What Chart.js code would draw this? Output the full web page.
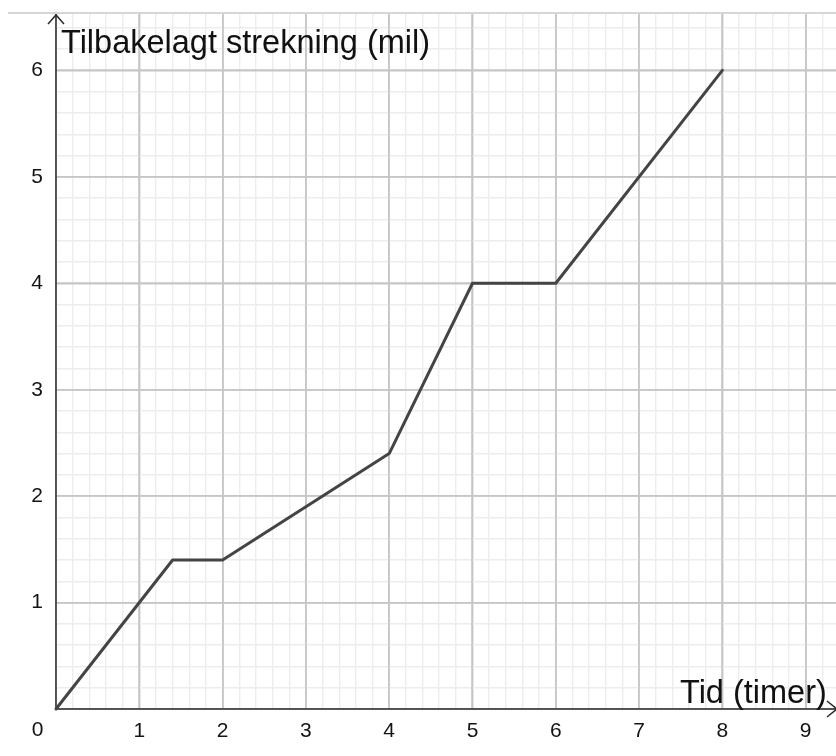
<!DOCTYPE html>
<html>
<head>
<meta charset="utf-8">
<style>
  html, body { margin: 0; padding: 0; background: #ffffff; }
  #c { display: block; }
</style>
<script src="https://cdn.jsdelivr.net/npm/chart.js@4.4.1/dist/chart.umd.min.js"></script>
</head>
<body>
<canvas id="c" width="836" height="756"></canvas>
<script>
// ---- Data ----
const timeHours = [0, 1.4, 2, 4, 5, 6, 8];
const distanceMil = [0, 1.4, 1.4, 2.4, 4, 4, 6];
const xTickLabels = ['0', '1', '2', '3', '4', '5', '6', '7', '8', '9'];
const yTickLabels = ['1', '2', '3', '4', '5', '6'];
const xTitle = 'Tid (timer)';
const yTitle = 'Tilbakelagt strekning (mil)';

// ---- Styles ----
const FONT = '"Liberation Sans", Arial, sans-serif';
const MAJOR = '#c6c6c6';
const MINOR = '#ededed';
const AXIS = '#2b2b2b';
const LABEL = '#141414';
const X_MAX = 9.364;
const Y_MAX = 6.53;
const SUB = 5;

function isMajor(v) { return Math.abs(v - Math.round(v)) < 1e-6; }
function gridTicks(max) {
  const out = [];
  for (let i = 0; i * (1 / SUB) < max - 1e-6; i++) out.push({ value: i / SUB });
  return out;
}

const points = timeHours.map((t, i) => ({ x: t, y: distanceMil[i] }));

const overlay = {
  id: 'overlay',
  beforeDatasetsDraw(chart) {
    const { ctx, chartArea: a, scales: { x, y } } = chart;
    ctx.save();
    ctx.strokeStyle = MAJOR;
    ctx.lineWidth = 1.6;
    for (let i = 1; i < xTickLabels.length; i++) {
      const px = Math.round(x.getPixelForValue(Number(xTickLabels[i])));
      ctx.beginPath(); ctx.moveTo(px, a.top); ctx.lineTo(px, a.bottom); ctx.stroke();
    }
    for (let i = 0; i < yTickLabels.length; i++) {
      const py = Math.round(y.getPixelForValue(Number(yTickLabels[i])));
      ctx.beginPath(); ctx.moveTo(a.left, py); ctx.lineTo(a.right, py); ctx.stroke();
    }
    ctx.strokeStyle = AXIS;
    ctx.lineWidth = 1.5;
    const x0 = x.getPixelForValue(0), y0 = y.getPixelForValue(0);
    ctx.beginPath(); ctx.moveTo(x0, a.top); ctx.lineTo(x0, y0); ctx.lineTo(a.right + 2, y0); ctx.stroke();
    ctx.restore();
  },
  afterDraw(chart) {
    const { ctx, chartArea: a, scales: { x, y } } = chart;
    const x0 = x.getPixelForValue(0), y0 = y.getPixelForValue(0);
    ctx.save();
    ctx.strokeStyle = '#d6d6d6';
    ctx.lineWidth = 2;
    ctx.beginPath(); ctx.moveTo(8, a.top - 1); ctx.lineTo(836, a.top - 1); ctx.stroke();
    ctx.strokeStyle = AXIS;
    ctx.lineWidth = 1.5;
    ctx.beginPath();
    ctx.moveTo(x0 - 8, a.top + 10); ctx.lineTo(x0, a.top + 1); ctx.lineTo(x0 + 8, a.top + 10);
    ctx.stroke();
    ctx.beginPath();
    ctx.moveTo(a.right - 9, y0 - 8); ctx.lineTo(a.right + 1, y0); ctx.lineTo(a.right - 9, y0 + 8);
    ctx.stroke();
    ctx.fillStyle = '#111';
    ctx.font = '32.5px ' + FONT;
    ctx.textBaseline = 'alphabetic';
    ctx.textAlign = 'left';
    ctx.fillText(yTitle, x0 + 5, 53);
    ctx.fillText(xTitle, 680, y0 - 6);
    ctx.font = '21px ' + FONT;
    ctx.fillStyle = LABEL;
    ctx.textAlign = 'center';
    ctx.textBaseline = 'middle';
    ctx.fillText(xTickLabels[0], 37.5, 730);
    ctx.restore();
  }
};

new Chart(document.getElementById('c'), {
  type: 'scatter',
  data: {
    datasets: [{
      data: points,
      showLine: true,
      borderColor: '#444444',
      borderWidth: 3,
      borderJoinStyle: 'round',
      borderCapStyle: 'round',
      pointRadius: 0,
      pointHoverRadius: 0,
      tension: 0,
      fill: false,
      clip: false
    }]
  },
  options: {
    responsive: false,
    animation: false,
    devicePixelRatio: 1,
    layout: { padding: { top: 14, left: 0, right: 0, bottom: 0 } },
    plugins: { legend: { display: false }, tooltip: { enabled: false } },
    scales: {
      x: {
        type: 'linear',
        min: 0,
        max: X_MAX,
        afterBuildTicks(scale) { scale.ticks = gridTicks(X_MAX); },
        afterFit(scale) { scale.height = 47; scale.paddingLeft = 0; scale.paddingRight = 0; },
        grid: {
          drawTicks: false,
          color: (c) => isMajor(c.tick.value) ? MAJOR : MINOR,
          lineWidth: 1.4
        },
        border: { display: false },
        ticks: {
          padding: 10,
          autoSkip: false,
          maxRotation: 0,
          color: LABEL,
          font: { family: FONT, size: 21 },
          callback(v) {
            if (!isMajor(v)) return '';
            const k = Math.round(v);
            return k === 0 ? '' : (xTickLabels[k] || '');
          }
        }
      },
      y: {
        type: 'linear',
        min: 0,
        max: Y_MAX,
        afterBuildTicks(scale) { scale.ticks = gridTicks(Y_MAX); },
        afterFit(scale) { scale.width = 56; scale.paddingTop = 0; scale.paddingBottom = 0; },
        grid: {
          drawTicks: false,
          color: (c) => isMajor(c.tick.value) ? MAJOR : MINOR,
          lineWidth: 1.4
        },
        border: { display: false },
        ticks: {
          padding: 13,
          autoSkip: false,
          color: LABEL,
          font: { family: FONT, size: 21 },
          callback(v) {
            if (!isMajor(v)) return '';
            const k = Math.round(v);
            return k >= 1 ? (yTickLabels[k - 1] || '') : '';
          }
        }
      }
    }
  },
  plugins: [overlay]
});
</script>
</body>
</html>
